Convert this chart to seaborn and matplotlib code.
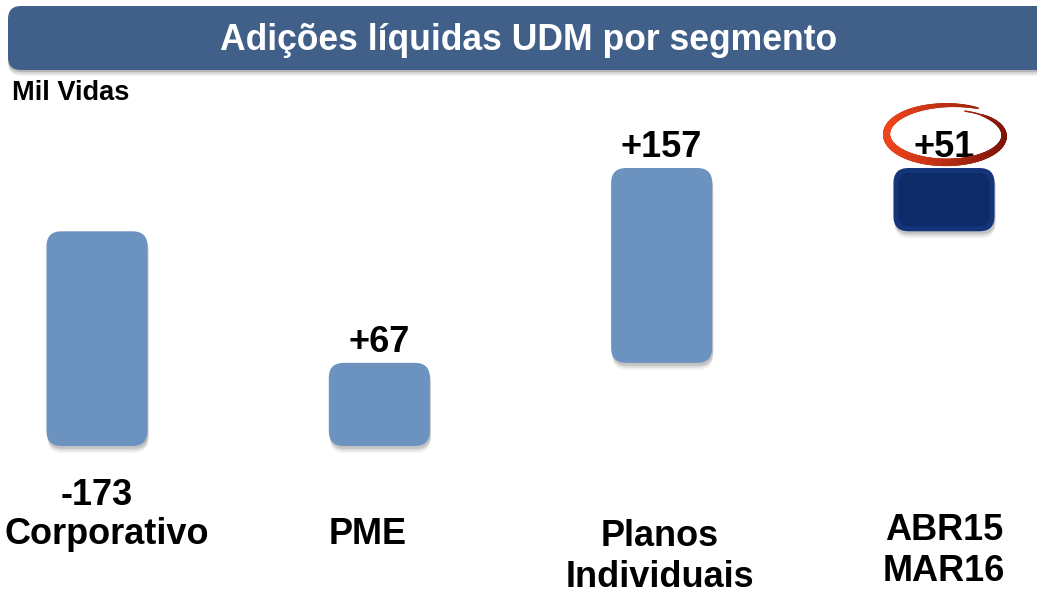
import numpy as np
import matplotlib
matplotlib.use("Agg")
import matplotlib.pyplot as plt
import seaborn as sns
from matplotlib.patches import FancyBboxPatch
from matplotlib.collections import LineCollection
from matplotlib.colors import to_rgb

# data
categories = ["Corporativo", "PME", "Planos\nIndividuais", "ABR15\nMAR16"]
deltas = [-173, 67, 157, 51]
value_labels = ["-173", "+67", "+157", "+51"]
is_total = [False, False, False, True]

title = "Adições líquidas UDM por segmento"
unit_label = "Mil Vidas"

light_blue = "#6C93C0"
dark_blue = "#14357A"

# waterfall starts / ends
starts, ends = [], []
running = 0
for d, tot in zip(deltas, is_total):
    if tot:
        starts.append(0)
        ends.append(d)
    else:
        starts.append(running)
        ends.append(running + d)
        running += d

sns.set_theme(style="white")
plt.rcParams["font.family"] = ["Liberation Sans", "DejaVu Sans"]

W, H = 1037, 597
fig = plt.figure(figsize=(W / 100, H / 100), dpi=100)
ax = fig.add_axes([0, 0, 1, 1])

heights = [e - s for s, e in zip(starts, ends)]
colors = [dark_blue if t else light_blue for t in is_total]
sns.barplot(x=categories, y=heights, hue=categories, palette=colors,
            width=0.358, legend=False, ax=ax)

# axis scales chosen so the layout matches the slide
px_x = 282.3
px_y = 1.241
ax.set_xlim(-97 / px_x, 3 + (W - 944) / px_x)
ax.set_ylim(-173 - (H - 446) / px_y, 51 + 168 / px_y)
ax.set_axis_off()

# replace plain bars with rounded ones
aspect = (1 / px_y) / (1 / px_x)
rad = 15 / px_x
bars = list(ax.patches)
for i, p in enumerate(bars):
    x0, w = p.get_x(), p.get_width()
    y0, y1 = sorted([starts[i], ends[i]])
    p.remove()
    # soft shadow
    for k, a in [(7, 0.05), (5, 0.08), (3, 0.12)]:
        sh = FancyBboxPatch((x0 + 1 / px_x, y0 - k / px_y), w, y1 - y0,
                            boxstyle=f"round,pad=0,rounding_size={rad}",
                            mutation_aspect=aspect, fc="#000000", ec="none",
                            alpha=a, zorder=2)
        ax.add_patch(sh)
    fb = FancyBboxPatch((x0, y0), w, y1 - y0,
                        boxstyle=f"round,pad=0,rounding_size={rad}",
                        mutation_aspect=aspect, fc=colors[i], ec="none", zorder=3)
    ax.add_patch(fb)
    if is_total[i]:
        inset = 5
        inner = FancyBboxPatch((x0 + inset / px_x, y0 + inset / px_y),
                               w - 2 * inset / px_x, y1 - y0 - 2 * inset / px_y,
                               boxstyle=f"round,pad=0,rounding_size={rad * 0.7}",
                               mutation_aspect=aspect, fc="#0D2B69", ec="none",
                               zorder=4)
        ax.add_patch(inner)

    # value labels
    xc = x0 + w / 2
    if ends[i] >= starts[i]:
        ax.text(xc, y1 + 3 / px_y, value_labels[i], ha="center", va="bottom",
                fontsize=26, fontweight="bold", color="black", zorder=6)
    else:
        ax.text(xc, y0 - 32 / px_y, value_labels[i], ha="center", va="top",
                fontsize=26, fontweight="bold", color="black", zorder=6)

# overlay in pixel coordinates for slide decorations
ov = fig.add_axes([0, 0, 1, 1], facecolor="none")
ov.set_xlim(0, W)
ov.set_ylim(H, 0)
ov.set_axis_off()

# title bar with shadow
for k, a in [(6, 0.06), (4, 0.1), (2, 0.15)]:
    ov.add_patch(FancyBboxPatch((8, 6 + k), 1060, 64,
                                boxstyle="round,pad=0,rounding_size=13",
                                fc="#000000", ec="none", alpha=a, zorder=1))
ov.add_patch(FancyBboxPatch((8, 6), 1060, 64,
                            boxstyle="round,pad=0,rounding_size=13",
                            fc="#40608A", ec="none", zorder=2))
ov.text(529, 41, title, ha="center", va="center", fontsize=25.6,
        fontweight="bold", color="white", zorder=3)
ov.text(12, 93, unit_label, ha="left", va="center", fontsize=19.6,
        fontweight="bold", color="black")

# category labels
cat_pos = [(107, 535), (368, 535), (660, 557), (944, 551)]
for (cx, cy), lab in zip(cat_pos, categories):
    ov.text(cx, cy, lab, ha="center", va="center", fontsize=26,
            fontweight="bold", color="black", linespacing=1.25)

# hand-drawn style oval around the total label
t = np.linspace(np.radians(62), np.radians(62 + 370), 300)
cx, cy, a, b = 948, 135, 58, 27
grow = np.linspace(1.12, 0.93, t.size)
xs = cx + a * grow * np.cos(t)
ys = cy - b * grow * np.sin(t)
pts = np.column_stack([xs, ys]).reshape(-1, 1, 2)
segs = np.concatenate([pts[:-1], pts[1:]], axis=1)
c1, c2 = np.array(to_rgb("#F0451C")), np.array(to_rgb("#7E1608"))
mix = (np.cos(t[:-1]) + 1) / 2
seg_cols = [tuple(c1 * (1 - m) + c2 * m) for m in mix]
frac = np.linspace(0, 1, t.size - 1)
lw = 1.0 + 4.5 * np.sin(np.pi * np.clip(frac * 1.05, 0, 1)) ** 0.6
ov.add_collection(LineCollection(segs, colors=seg_cols, linewidths=lw,
                                 capstyle="round", zorder=5))

fig.savefig("out.png", dpi=100)
